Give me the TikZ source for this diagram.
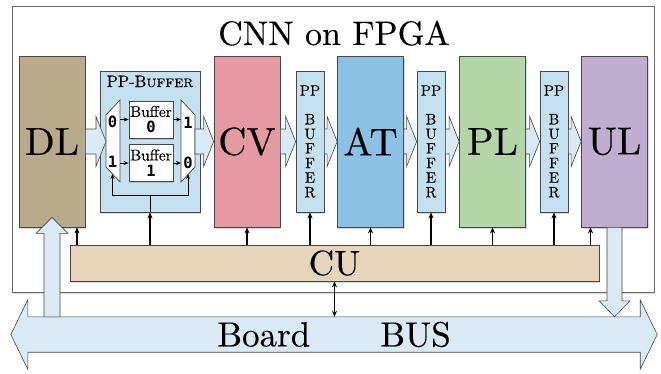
\documentclass[tikz,border=0pt]{standalone}
\usepackage{fontspec}
\setmainfont{lmroman10-regular.otf}[BoldFont=lmroman10-bold.otf,ItalicFont=lmroman10-italic.otf,SmallCapsFont=lmromancaps10-regular.otf,SmallCapsFeatures={FakeBold=0.3},FakeBold=0.3]
\newfontfamily\bitfont{DejaVu Sans Mono}
\usetikzlibrary{positioning,calc,arrows.meta,shadows}

\definecolor{edgecol}{HTML}{474747}
\definecolor{dlcol}{HTML}{B9AA8C}
\definecolor{cvcol}{HTML}{E59AA3}
\definecolor{atcol}{HTML}{8AC1E4}
\definecolor{plcol}{HTML}{B4D6A6}
\definecolor{ulcol}{HTML}{BFAED0}
\definecolor{ppcol}{HTML}{C4E1F2}
\definecolor{flowcol}{HTML}{DAEBF7}
\definecolor{cucol}{HTML}{E6D5BA}

\newcommand{\bitlabel}[1]{{\bitfont\bfseries\fontsize{15.5}{15}\selectfont #1}}

% fat data arrow between two points on one height
\newcommand{\flowarrow}[2]{%
  \draw[flow] let \p1=(#1), \p2=(#2) in
    (\x1,\y1+12.5pt) -- (\x2-10pt,\y1+12.5pt) -- (\x2-10pt,\y1+25pt) -- (\x2,\y1)
    -- (\x2-10pt,\y1-25pt) -- (\x2-10pt,\y1-12.5pt) -- (\x1,\y1-12.5pt) -- cycle;}

\begin{document}
\begin{tikzpicture}[x=1pt,y=-1pt,
    shade/.style={drop shadow={shadow xshift=1.2pt,shadow yshift=-1.5pt,opacity=.3}},
    layer/.style={draw=edgecol,line width=.7pt,minimum width=66pt,minimum height=171pt,inner sep=0pt,font=\fontsize{39}{39}\selectfont,shade},
    ppbox/.style={draw=edgecol,line width=.7pt,fill=ppcol,minimum width=28pt,minimum height=141pt,inner sep=0pt,align=center,font=\fontsize{15}{14.6}\selectfont,shade},
    bufbox/.style={draw=edgecol,line width=.7pt,fill=white,minimum width=44pt,minimum height=37pt,inner sep=0pt,align=center,font=\fontsize{15.5}{16}\selectfont,shade},
    mux/.style={draw=edgecol,line width=.7pt,fill=white},
    flow/.style={draw=edgecol,line width=.6pt,fill=flowcol},
    ctrl/.style={-{Stealth[length=6pt,width=5pt]},line width=1.2pt},
    sel/.style={-{Stealth[length=5pt,width=4pt]},line width=.9pt}]
  \useasboundingbox (0,0) rectangle (661,373);

  % FPGA frame
  \node[draw=edgecol!80,line width=.8pt,fill=white,minimum width=642pt,minimum height=286pt,shade] (fpga) at (333,149) {};
  \node[anchor=base,font=\fontsize{34}{34}\selectfont] (title) at (334,45) {CNN on FPGA};

  % layers and buffers
  \node[layer,fill=dlcol] (dl) at (52,141.5) {DL};
  \node[draw=edgecol,line width=.7pt,fill=ppcol,minimum width=100pt,minimum height=141pt,shade] (pp) at (150,141.5) {};
  \node[layer,fill=cvcol] (cv) at (247,141.5) {CV};
  \node[ppbox] (sba) at (310,141.5) {PP\\[14pt]B\\U\\F\\F\\E\\R};
  \node[layer,fill=atcol] (at) at (370.5,141.5) {AT};
  \node[ppbox] (sbb) at (431,141.5) {PP\\[14pt]B\\U\\F\\F\\E\\R};
  \node[layer,fill=plcol] (pl) at (492.5,141.5) {PL};
  \node[ppbox] (sbc) at (554,141.5) {PP\\[14pt]B\\U\\F\\F\\E\\R};
  \node[layer,fill=ulcol] (ul) at (614.5,141.5) {UL};

  % inside the ping-pong buffer
  \node[anchor=base,font=\fontsize{16.5}{16}\selectfont] (pptitle) at (150,87) {PP-B\textsc{uffer}};
  \draw[mux] (106,115) -- (120,100) -- (120,182) -- (106,167) -- cycle;
  \draw[mux] (181,100) -- (195,115) -- (195,167) -- (181,182) -- cycle;
  \coordinate (muxin-w) at (106,141.5);
  \coordinate (muxin-e) at (120,141.5);
  \coordinate (muxout-w) at (181,141.5);
  \coordinate (muxout-e) at (195,141.5);
  \coordinate (muxin-b) at (112.5,174);
  \coordinate (muxout-b) at (188,174);
  \coordinate (selbar) at (150,195);
  \node[bufbox] (bufa) at (151,119.5) {Buffer\\\bitlabel{0}};
  \node[bufbox] (bufb) at (151,163) {Buffer\\\bitlabel{1}};
  \node (inzero) at (112.5,122) {\bitlabel{0}};
  \node (inone) at (112.5,162) {\bitlabel{1}};
  \node (outone) at (188,123) {\bitlabel{1}};
  \node (outzero) at (188,163) {\bitlabel{0}};
  \draw[sel] (muxin-e |- bufa.west) -- (bufa.west);
  \draw[sel] (muxin-e |- bufb.west) -- (bufb.west);
  \draw[sel] (bufa.east) -- (muxout-w |- bufa.east);
  \draw[sel] (bufb.east) -- (muxout-w |- bufb.east);
  \draw[line width=.9pt] (pp.south) -- (selbar);
  \draw[sel] (selbar) -| (muxin-b);
  \draw[sel] (selbar) -| (muxout-b);

  % data flow
  \flowarrow{dl.east}{muxin-w}
  \flowarrow{muxout-e}{cv.west}
  \flowarrow{cv.east}{sba.west}
  \flowarrow{sba.east}{at.west}
  \flowarrow{at.east}{sbb.west}
  \flowarrow{sbb.east}{pl.west}
  \flowarrow{pl.east}{sbc.west}
  \flowarrow{sbc.east}{ul.west}

  % control unit
  \node[draw=edgecol,line width=.7pt,fill=cucol,minimum width=529pt,minimum height=36pt,inner sep=0pt,font=\fontsize{35}{35}\selectfont,shade] (cu) at (334.5,263) {CU};
  \draw[ctrl] ([xshift=25pt]dl.south |- cu.north) -- ([xshift=25pt]dl.south);
  \draw[ctrl] (pp.south |- cu.north) -- (pp.south);
  \draw[ctrl] (cv.south |- cu.north) -- (cv.south);
  \draw[ctrl] (sba.south |- cu.north) -- (sba.south);
  \draw[ctrl] (at.south |- cu.north) -- (at.south);
  \draw[ctrl] (sbb.south |- cu.north) -- (sbb.south);
  \draw[ctrl] (pl.south |- cu.north) -- (pl.south);
  \draw[ctrl] (sbc.south |- cu.north) -- (sbc.south);
  \draw[ctrl] ([xshift=-24pt]ul.south |- cu.north) -- ([xshift=-24pt]ul.south);

  % board bus
  \node[minimum width=612pt,minimum height=35pt,inner sep=0pt] (bus) at (334,334.5) {};
  \draw[flow] (bus.north west) -- (bus.north east) -- ([yshift=17pt]bus.north east) -- ([xshift=17pt]bus.east)
    -- ([yshift=-17pt]bus.south east) -- (bus.south east) -- (bus.south west) -- ([yshift=-17pt]bus.south west)
    -- ([xshift=-17pt]bus.west) -- ([yshift=17pt]bus.north west) -- cycle;
  \node[font=\fontsize{35}{35}\selectfont] (bustext) at (bus) {Board\hspace{70pt}BUS};
  \draw[ctrl,{Stealth[length=6pt,width=5pt]}-{Stealth[length=6pt,width=5pt]}] (cu.south) -- (cu.south |- bus.north);

  % load and store paths
  \draw[flow] ($(dl.south |- bus.north)+(-8pt,0)$) -- ($(dl.south)+(-8pt,-6pt)$) -- ($(dl.south)+(-16pt,-6pt)$)
    -- ($(dl.south)+(0,10pt)$) -- ($(dl.south)+(16pt,-6pt)$) -- ($(dl.south)+(8pt,-6pt)$)
    -- ($(dl.south |- bus.north)+(8pt,0)$) -- cycle;
  \draw[flow] ($(ul.south)+(-7.5pt,0)$) -- ($(ul.south |- bus.north)+(-7.5pt,16pt)$) -- ($(ul.south |- bus.north)+(-15.5pt,16pt)$)
    -- (ul.south |- bus.north) -- ($(ul.south |- bus.north)+(15.5pt,16pt)$) -- ($(ul.south |- bus.north)+(7.5pt,16pt)$)
    -- ($(ul.south)+(7.5pt,0)$) -- cycle;
\end{tikzpicture}
\end{document}
